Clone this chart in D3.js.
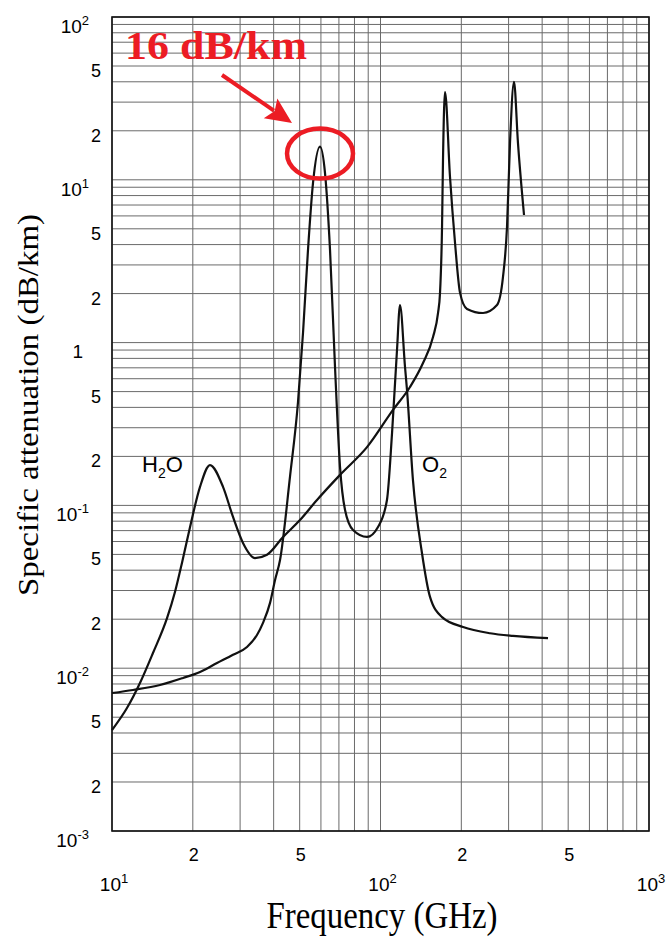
<!DOCTYPE html>
<html>
<head>
<meta charset="utf-8">
<script src="https://cdn.jsdelivr.net/npm/d3@7"></script>
<style>
  body { margin: 0; background: #fff; }
  svg { display: block; }
</style>
</head>
<body>
<div id="chart"></div>
<script>
// Oxygen absorption (GHz, dB/km)
const o2Freq  = [10, 11.97, 15.09, 18.39, 21.27, 24.61, 28.23, 31.83, 34.67, 36.51, 38.78, 40.48, 42.25, 46.02, 49.28, 51.45, 53.70, 56.06, 59.53, 62.14, 64.86, 67.70, 70.68, 73.78, 79.02, 89.07, 97.88, 105.7, 110.4, 115.2, 118.2, 123.4, 125.5, 132.1, 142.7, 152.9, 169.5, 203.0, 255.8, 311.5, 420.6];
const o2Atten = [0.00704, 0.00735, 0.00788, 0.00871, 0.00948, 0.01076, 0.0121, 0.0135, 0.0160, 0.0190, 0.0252, 0.0348, 0.0462, 0.150, 0.43, 1.146, 3.71, 9.56, 16, 11.0, 3.71, 0.708, 0.172, 0.0937, 0.0706, 0.0640, 0.0737, 0.108, 0.278, 0.901, 1.70, 0.708, 0.512, 0.143, 0.0510, 0.0274, 0.0206, 0.0179, 0.0164, 0.0158, 0.0153];

// Water vapour absorption (GHz, dB/km)
const h2oFreq  = [10, 11.37, 12.71, 14.21, 16.03, 17.17, 18.23, 19.52, 21.27, 23.17, 25.91, 28.23, 30.75, 34.09, 37.79, 43.35, 50.13, 58.01, 70.68, 89.07, 111.3, 128.8, 144.0, 156.9, 163.8, 166.6, 169.5, 170.9, 173.9, 181.5, 189.5, 197.8, 210.0, 240.9, 271.6, 285.9, 295.9, 303.6, 314.2, 325.1, 342.4];
const h2oAtten = [0.00417, 0.00569, 0.00811, 0.0124, 0.0203, 0.0295, 0.0445, 0.0735, 0.130, 0.177, 0.130, 0.0849, 0.0588, 0.0475, 0.0498, 0.0640, 0.0813, 0.108, 0.154, 0.228, 0.386, 0.534, 0.749, 1.082, 1.52, 2.02, 5.13, 13.2, 34.6, 10.4, 4.09, 2.02, 1.61, 1.52, 1.70, 2.53, 5.13, 16.8, 39.9, 16.8, 6.08];

// Tick labels
const xDecades = [10, 100, 1000];
const xMinorLabels = [20, 50, 200, 500];
const yDecades = [100, 10, 0.1, 0.01, 0.001];
const yMinorLabels = [50, 20, 5, 2, 0.5, 0.2, 0.05, 0.02, 0.005, 0.002];

const width = 670, height = 939;
const margin = { top: 17, right: 21, bottom: 108, left: 112 };

const svg = d3.select('#chart').append('svg')
  .attr('width', width)
  .attr('height', height);

const x = d3.scaleLog().domain([10, 1000]).range([margin.left, width - margin.right]);
const y = d3.scaleLog().domain([0.001, 100]).range([height - margin.bottom, margin.top]);

// Log grid
const grid = svg.append('g').attr('stroke', '#6a6a6a').attr('stroke-width', 1);
grid.selectAll('.gx')
  .data(x.ticks())
  .join('line')
  .attr('x1', d => x(d)).attr('x2', d => x(d))
  .attr('y1', y.range()[0]).attr('y2', y.range()[1]);
grid.selectAll('.gy')
  .data(y.ticks())
  .join('line')
  .attr('y1', d => y(d)).attr('y2', d => y(d))
  .attr('x1', x.range()[0]).attr('x2', x.range()[1]);

// Frame
svg.append('rect')
  .attr('x', x.range()[0])
  .attr('y', y.range()[1])
  .attr('width', x.range()[1] - x.range()[0])
  .attr('height', y.range()[0] - y.range()[1])
  .attr('fill', 'none')
  .attr('stroke', '#111')
  .attr('stroke-width', 1.6);

// Curves
const line = d3.line()
  .x(d => x(d[0]))
  .y(d => y(d[1]))
  .curve(d3.curveMonotoneX);

[[o2Freq, o2Atten], [h2oFreq, h2oAtten]].forEach(([f, a]) => {
  svg.append('path')
    .datum(f.map((v, i) => [v, a[i]]))
    .attr('fill', 'none')
    .attr('stroke', '#111')
    .attr('stroke-width', 2.2)
    .attr('stroke-linejoin', 'round')
    .attr('d', line);
});

// Tick labels
const sans = 'Liberation Sans, Arial, Helvetica, sans-serif';
const serif = 'Liberation Serif, Times New Roman, serif';

function powerLabel(sel, v) {
  const e = Math.round(Math.log10(v));
  sel.append('tspan').text('10');
  sel.append('tspan').attr('dy', -8).style('font-size', '13px').text(e);
}

svg.selectAll('.ydec')
  .data(yDecades)
  .join('text')
  .attr('x', 89)
  .attr('y', d => y(d) + 16)
  .attr('text-anchor', 'end')
  .style('font-family', sans)
  .style('font-size', '19px')
  .each(function(d) { powerLabel(d3.select(this), d); });

svg.append('text')
  .attr('x', 83)
  .attr('y', y(1) + 15)
  .attr('text-anchor', 'end')
  .style('font-family', sans)
  .style('font-size', '19px')
  .text('1');

svg.selectAll('.ymin')
  .data(yMinorLabels)
  .join('text')
  .attr('x', 101)
  .attr('y', d => y(d) + 11)
  .attr('text-anchor', 'end')
  .style('font-family', sans)
  .style('font-size', '18px')
  .text(d => String(d / Math.pow(10, Math.floor(Math.log10(d) + 1e-9))).slice(0, 1));

svg.selectAll('.xmin')
  .data(xMinorLabels)
  .join('text')
  .attr('x', d => x(d) + 1)
  .attr('y', 861)
  .attr('text-anchor', 'middle')
  .style('font-family', sans)
  .style('font-size', '18px')
  .text(d => String(d).slice(0, 1));

svg.selectAll('.xdec')
  .data(xDecades)
  .join('text')
  .attr('x', d => x(d) + 2)
  .attr('y', 891)
  .attr('text-anchor', 'middle')
  .style('font-family', sans)
  .style('font-size', '19px')
  .each(function(d) { powerLabel(d3.select(this), d); });

// Axis titles
svg.append('text')
  .attr('x', 382)
  .attr('y', 928)
  .attr('text-anchor', 'middle')
  .attr('textLength', 231)
  .attr('lengthAdjust', 'spacingAndGlyphs')
  .style('font-family', serif)
  .style('font-size', '38px')
  .text('Frequency (GHz)');

svg.append('text')
  .attr('transform', 'translate(38,405) rotate(-90)')
  .attr('text-anchor', 'middle')
  .attr('textLength', 382)
  .attr('lengthAdjust', 'spacingAndGlyphs')
  .style('font-family', serif)
  .style('font-size', '30px')
  .text('Specific attenuation (dB/km)');

// Line labels
function chemLabel(px, py, parts) {
  const t = svg.append('text')
    .attr('x', px).attr('y', py)
    .style('font-family', sans)
    .style('font-size', '22px');
  parts.forEach(([s, sub]) => {
    t.append('tspan')
      .attr('dy', sub ? 6 : (t.selectAll('tspan').size() ? -6 : 0))
      .style('font-size', sub ? '14px' : null)
      .text(s);
  });
}
chemLabel(142, 478, [['H', false], ['2', true], ['O', false]]);
chemLabel(422, 478, [['O', false], ['2', true]]);

// Red annotation for the 60 GHz oxygen peak
const red = '#ec1c24';
const peakIdx = o2Atten.indexOf(d3.max(o2Atten));
const px = x(o2Freq[peakIdx]), py = y(o2Atten[peakIdx]);

svg.append('ellipse')
  .attr('cx', px)
  .attr('cy', py + 7)
  .attr('rx', 33)
  .attr('ry', 25)
  .attr('fill', 'none')
  .attr('stroke', red)
  .attr('stroke-width', 4.5);

svg.append('text')
  .attr('x', 125)
  .attr('y', 59)
  .attr('textLength', 182)
  .attr('lengthAdjust', 'spacingAndGlyphs')
  .style('font-family', serif)
  .style('font-weight', 'bold')
  .style('font-size', '40px')
  .attr('fill', red)
  .text(`${Math.round(o2Atten[peakIdx])} dB/km`);

const a0 = [222, 75], tip = [292, 123];
const len = Math.hypot(tip[0] - a0[0], tip[1] - a0[1]);
const ux = (tip[0] - a0[0]) / len, uy = (tip[1] - a0[1]) / len;
const head = 26, half = 12;
const bx = tip[0] - ux * head, by = tip[1] - uy * head;
svg.append('line')
  .attr('x1', a0[0]).attr('y1', a0[1])
  .attr('x2', bx + ux * 4).attr('y2', by + uy * 4)
  .attr('stroke', red)
  .attr('stroke-width', 4);
svg.append('path')
  .attr('d', `M${tip[0]},${tip[1]} L${bx - uy * half},${by + ux * half} L${bx + ux * 5},${by + uy * 5} L${bx + uy * half},${by - ux * half} Z`)
  .attr('fill', red);
</script>
</body>
</html>
